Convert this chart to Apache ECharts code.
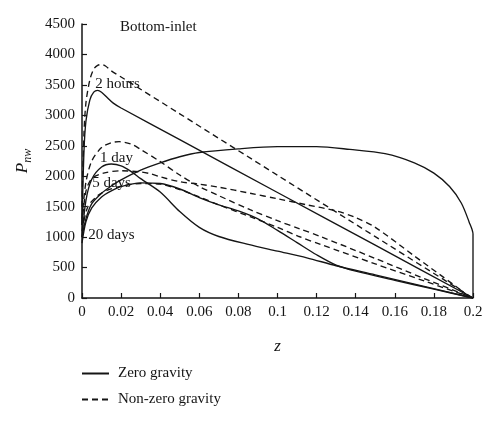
<!DOCTYPE html>
<html>
<head>
<meta charset="utf-8">
<script src="https://cdn.jsdelivr.net/npm/echarts@6/dist/echarts.min.js"></script>
<style>
    html, body { margin: 0; padding: 0; background: #fff; }
    #main { width: 500px; height: 423px; }
</style>
</head>
<body>
<div id="main"></div>
<script>
// values (z, P_nw)
var z2hS = [0, 0.001, 0.002, 0.004, 0.006, 0.008, 0.010, 0.013, 0.016, 0.02, 0.05, 0.1, 0.15, 0.2];
var p2hS = [1200, 2400, 2900, 3250, 3380, 3410, 3380, 3290, 3200, 3120, 2600, 1733, 867, 0];

var z2hD = [0, 0.001, 0.002, 0.004, 0.006, 0.008, 0.010, 0.012, 0.015, 0.02, 0.05, 0.1, 0.15, 0.2];
var p2hD = [1500, 2700, 3200, 3580, 3760, 3820, 3835, 3810, 3730, 3630, 3025, 2016, 1008, 0];

var z1dS = [0, 0.002, 0.005, 0.01, 0.015, 0.02, 0.025, 0.03, 0.04, 0.05, 0.06, 0.07, 0.085, 0.1, 0.115, 0.13, 0.15, 0.175, 0.2];
var p1dS = [1000, 1600, 1950, 2150, 2200, 2170, 2080, 1960, 1740, 1420, 1160, 1010, 880, 770, 660, 530, 380, 190, 0];

var z1dD = [0, 0.002, 0.005, 0.01, 0.015, 0.019, 0.025, 0.03, 0.04, 0.05, 0.06, 0.07, 0.086, 0.1, 0.111, 0.122, 0.15, 0.175, 0.2];
var p1dD = [1300, 1900, 2250, 2470, 2550, 2567, 2530, 2440, 2240, 2020, 1830, 1680, 1450, 1270, 1140, 1010, 650, 320, 0];

var z5dS = [0, 0.002, 0.005, 0.01, 0.015, 0.02, 0.03, 0.04, 0.05, 0.06, 0.07, 0.08, 0.09, 0.1, 0.11, 0.12, 0.13, 0.14, 0.16, 0.18, 0.2];
var p5dS = [900, 1250, 1480, 1660, 1760, 1830, 1890, 1880, 1790, 1650, 1530, 1430, 1300, 1110, 910, 710, 540, 440, 290, 145, 0];

var z5dD = [0, 0.003, 0.008, 0.013, 0.019, 0.025, 0.03, 0.04, 0.05, 0.06, 0.07, 0.086, 0.1, 0.111, 0.122, 0.15, 0.175, 0.2];
var p5dD = [1100, 1500, 1680, 1770, 1828, 1865, 1880, 1870, 1780, 1660, 1530, 1335, 1160, 1010, 880, 560, 280, 0];

var z20dS = [0, 0.002, 0.005, 0.01, 0.015, 0.02, 0.03, 0.04, 0.05, 0.06, 0.08, 0.1, 0.12, 0.137, 0.155, 0.17, 0.18, 0.188, 0.194, 0.198, 0.2, 0.2];
var p20dS = [1000, 1300, 1550, 1720, 1840, 1940, 2100, 2220, 2320, 2390, 2450, 2485, 2485, 2440, 2370, 2220, 2050, 1830, 1560, 1250, 1050, 0];

var z20dD = [0, 0.002, 0.005, 0.011, 0.02, 0.03, 0.035, 0.04, 0.05, 0.06, 0.07, 0.086, 0.1, 0.115, 0.13, 0.14, 0.15, 0.17, 0.19, 0.199];
var p20dD = [1200, 1750, 1960, 2050, 2090, 2070, 2040, 1990, 1910, 1870, 1820, 1720, 1630, 1530, 1430, 1320, 1160, 690, 220, 0];

var xTicks = [0, 0.2, 0.02];      // min, max, step
var yTicks = [0, 4500, 500];

var myChart = echarts.init(document.getElementById('main'));
var serif = '"Liberation Serif", "DejaVu Serif", serif';
var ink = '#151515';

function pairs(zs, ps) {
    var out = [];
    for (var i = 0; i < zs.length; i++) out.push([zs[i], ps[i]]);
    return out;
}

function curve(name, zs, ps, dashed) {
    return {
        name: name,
        type: 'line',
        data: pairs(zs, ps),
        symbol: 'none',
        smooth: 0.3,
        silent: true,
        lineStyle: {
            color: ink,
            width: 1.35,
            type: dashed ? [6, 4] : 'solid'
        },
        itemStyle: { color: ink }
    };
}

var axisCommon = {
    axisLine: { show: true, lineStyle: { color: ink, width: 1.5 } },
    axisTick: { show: true, inside: true, length: 5, lineStyle: { color: ink, width: 1.2 } },
    axisLabel: {
        color: ink, fontFamily: serif, fontSize: 15, margin: 7,
        formatter: function (v) { return String(v); }
    },
    splitLine: { show: false }
};

option = {
    animation: false,
    title: {
        text: 'Bottom-inlet',
        left: 115,
        top: 15,
        textStyle: { fontFamily: serif, fontSize: 15, fontWeight: 'normal', color: ink }
    },
    legend: {
        data: ['Zero gravity', 'Non-zero gravity'],
        orient: 'vertical',
        left: 76,
        top: 361,
        itemWidth: 27,
        itemHeight: 14,
        itemGap: 11,
        itemStyle: { color: 'rgba(0,0,0,0)', borderWidth: 0 },
        textStyle: { fontFamily: serif, fontSize: 15, color: ink, padding: [0, 0, 0, 4] }
    },
    grid: { left: 82, right: 27, top: 24, bottom: 125 },
    xAxis: echarts.util.merge({
        type: 'value',
        min: xTicks[0],
        max: xTicks[1],
        interval: xTicks[2],
        name: 'z',
        nameLocation: 'middle',
        nameGap: 40,
        nameTextStyle: { fontFamily: serif, fontSize: 17, fontStyle: 'italic', color: ink }
    }, axisCommon, true),
    yAxis: echarts.util.merge({
        type: 'value',
        min: yTicks[0],
        max: yTicks[1],
        interval: yTicks[2],
        name: '{p|P}{s|nw}',
        nameLocation: 'middle',
        nameRotate: 90,
        nameGap: 45,
        nameTextStyle: {
            rich: {
                p: { fontFamily: serif, fontSize: 17, fontStyle: 'italic', color: ink, lineHeight: 24, verticalAlign: 'middle' },
                s: { fontFamily: serif, fontSize: 12, fontStyle: 'italic', color: ink, lineHeight: 24, verticalAlign: 'bottom' }
            }
        }
    }, axisCommon, true),
    series: [
        curve('Zero gravity', z2hS, p2hS, false),
        curve('Zero gravity', z1dS, p1dS, false),
        curve('Zero gravity', z5dS, p5dS, false),
        curve('Zero gravity', z20dS, p20dS, false),
        curve('Non-zero gravity', z2hD, p2hD, true),
        curve('Non-zero gravity', z1dD, p1dD, true),
        curve('Non-zero gravity', z5dD, p5dD, true),
        curve('Non-zero gravity', z20dD, p20dD, true)
    ]
};

myChart.setOption(option);

// curve labels, anchored in data units (left edge, vertical middle)
var notes = [
    ['2 hours', 0.0068, 3520],
    ['1 day', 0.0092, 2300],
    ['5 days', 0.0052, 1890],
    ['20 days', 0.0032, 1035]
];
var texts = notes.map(function (n) {
    var pt = myChart.convertToPixel({ gridIndex: 0 }, [n[1], n[2]]);
    return {
        type: 'text',
        x: pt[0],
        y: pt[1],
        silent: true,
        style: {
            text: n[0],
            fill: ink,
            font: '15px ' + serif,
            verticalAlign: 'middle'
        }
    };
});
myChart.setOption({ graphic: texts });
</script>
</body>
</html>
